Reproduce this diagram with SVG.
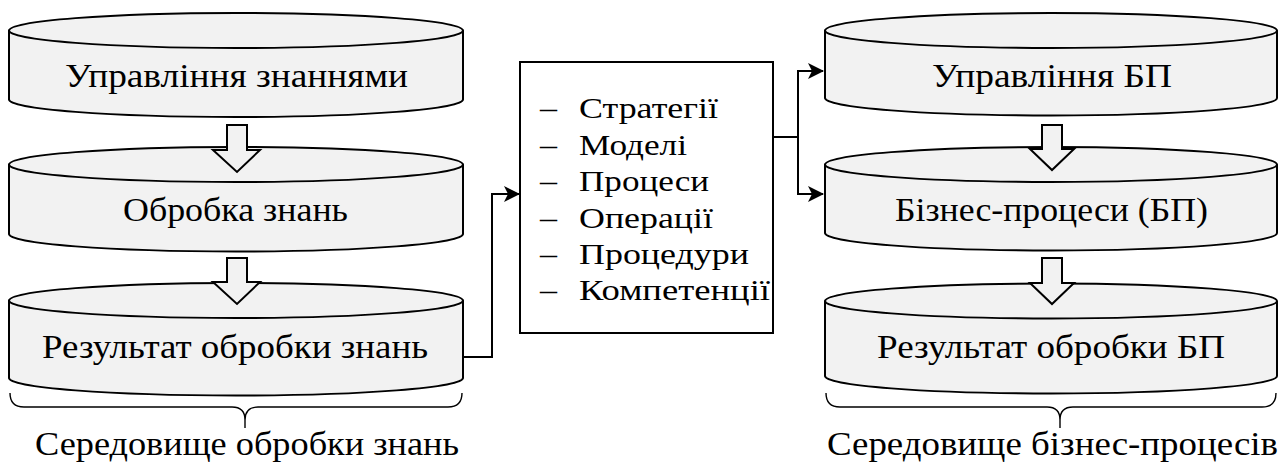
<svg xmlns="http://www.w3.org/2000/svg" width="1283" height="463" viewBox="0 0 1283 463">
<defs>
<style>
.cyl{fill:#f2f2f2;stroke:#000;stroke-width:2}
.front{fill:none;stroke:#000;stroke-width:2}
.blk{fill:#f2f2f2;stroke:#000;stroke-width:2;stroke-linejoin:miter}
.lbl{font-size:33px;fill:#000;text-anchor:middle}
.lst{font-size:30px;fill:#000}
.con{fill:none;stroke:#000;stroke-width:2}
.brace{fill:none;stroke:#000;stroke-width:1.4}
</style>
<marker id="ah" viewBox="0 0 16 16" refX="15" refY="8" markerWidth="16" markerHeight="16" markerUnits="userSpaceOnUse" orient="auto">
<path d="M0,0 L16,8 L0,16 L4,8 Z" fill="#000"/>
</marker>
</defs>
<rect width="1283" height="463" fill="#fff"/>

<g id="connectors">
<polyline class="con" points="463,357 492,357 492,194 519,194" marker-end="url(#ah)"/>
<polyline class="con" points="773,137 798,137"/>
<polyline class="con" points="798,137 798,71 823,71" marker-end="url(#ah)"/>
<polyline class="con" points="798,137 798,194 823,194" marker-end="url(#ah)"/>
</g>

<g font-family="Liberation Serif, Times New Roman, serif">
<g id="n-upr-znan">
<path class="cyl" d="M9,30.5 A227,17.5 0 0 1 463,30.5 L463,99.5 A227,17.5 0 0 1 9,99.5 Z"/>
<path class="front" d="M9,30.5 A227,17.5 0 0 0 463,30.5"/>
<text class="lbl" x="236.5" y="87" textLength="343" lengthAdjust="spacingAndGlyphs">Управління знаннями</text>
</g>
<g id="n-obr-znan">
<path class="cyl" d="M9,164.5 A227,17.5 0 0 1 463,164.5 L463,234 A227,17.5 0 0 1 9,234 Z"/>
<path class="front" d="M9,164.5 A227,17.5 0 0 0 463,164.5"/>
<text class="lbl" x="235.5" y="221" textLength="225" lengthAdjust="spacingAndGlyphs">Обробка знань</text>
</g>
<g id="n-rez-znan">
<path class="cyl" d="M9,300.5 A227,17.5 0 0 1 463,300.5 L463,378 A227,17.5 0 0 1 9,378 Z"/>
<path class="front" d="M9,300.5 A227,17.5 0 0 0 463,300.5"/>
<text class="lbl" x="235" y="358" textLength="386" lengthAdjust="spacingAndGlyphs">Результат обробки знань</text>
</g>
<g id="a-left-1"><polygon class="blk" points="227,125 247,125 247,150 260,150 237,172 213,150 227,150"/></g>
<g id="a-left-2"><polygon class="blk" points="227,258 247,258 247,282 260,282 237,304 213,282 227,282"/></g>

<g id="n-list">
<rect x="520" y="62" width="253" height="271" fill="#fff" stroke="#000" stroke-width="2"/>
<text class="lst"><tspan x="540" y="118" textLength="17" lengthAdjust="spacingAndGlyphs">–</tspan><tspan x="579" y="118" textLength="139" lengthAdjust="spacingAndGlyphs">Стратегії</tspan></text>
<text class="lst"><tspan x="540" y="155" textLength="17" lengthAdjust="spacingAndGlyphs">–</tspan><tspan x="579" y="155" textLength="108" lengthAdjust="spacingAndGlyphs">Моделі</tspan></text>
<text class="lst"><tspan x="540" y="191" textLength="17" lengthAdjust="spacingAndGlyphs">–</tspan><tspan x="579" y="191" textLength="130" lengthAdjust="spacingAndGlyphs">Процеси</tspan></text>
<text class="lst"><tspan x="540" y="228" textLength="17" lengthAdjust="spacingAndGlyphs">–</tspan><tspan x="579" y="228" textLength="134" lengthAdjust="spacingAndGlyphs">Операції</tspan></text>
<text class="lst"><tspan x="540" y="264" textLength="17" lengthAdjust="spacingAndGlyphs">–</tspan><tspan x="579" y="264" textLength="170" lengthAdjust="spacingAndGlyphs">Процедури</tspan></text>
<text class="lst"><tspan x="540" y="300" textLength="17" lengthAdjust="spacingAndGlyphs">–</tspan><tspan x="579" y="300" textLength="191" lengthAdjust="spacingAndGlyphs">Компетенції</tspan></text>
</g>

<g id="n-upr-bp">
<path class="cyl" d="M825,30.5 A226,17.5 0 0 1 1277,30.5 L1277,98 A226,17.5 0 0 1 825,98 Z"/>
<path class="front" d="M825,30.5 A226,17.5 0 0 0 1277,30.5"/>
<text class="lbl" x="1052" y="87" textLength="240" lengthAdjust="spacingAndGlyphs">Управління БП</text>
</g>
<g id="n-bp">
<path class="cyl" d="M825,164.5 A226,17.5 0 0 1 1277,164.5 L1277,233 A226,17.5 0 0 1 825,233 Z"/>
<path class="front" d="M825,164.5 A226,17.5 0 0 0 1277,164.5"/>
<text class="lbl" x="1051.5" y="221" textLength="313" lengthAdjust="spacingAndGlyphs">Бізнес-процеси (БП)</text>
</g>
<g id="n-rez-bp">
<path class="cyl" d="M825,301 A226,17.5 0 0 1 1277,301 L1277,376 A226,17.5 0 0 1 825,376 Z"/>
<path class="front" d="M825,301 A226,17.5 0 0 0 1277,301"/>
<text class="lbl" x="1051" y="358" textLength="348" lengthAdjust="spacingAndGlyphs">Результат обробки БП</text>
</g>
<g id="a-right-1"><polygon class="blk" points="1042,125 1062,125 1062,149 1074,149 1052,170 1030,149 1042,149"/></g>
<g id="a-right-2"><polygon class="blk" points="1042,258 1062,258 1062,283 1074,283 1052,304 1030,283 1042,283"/></g>

<g id="brace-left">
<path class="brace" d="M10,393 Q10,407 24,407 L232,407 Q245,407 245,420 L245,428 M245,420 Q245,407 258,407 L448,407 Q462,407 462,393"/>
<text class="lbl" x="247" y="455" textLength="424" lengthAdjust="spacingAndGlyphs">Середовище обробки знань</text>
</g>
<g id="brace-right">
<path class="brace" d="M826,393 Q826,407 840,407 L1047,407 Q1060,407 1060,420 L1060,428 M1060,420 Q1060,407 1073,407 L1262,407 Q1276,407 1276,393"/>
<text class="lbl" x="1052.5" y="455" textLength="451" lengthAdjust="spacingAndGlyphs">Середовище бізнес-процесів</text>
</g>
</g>
</svg>
